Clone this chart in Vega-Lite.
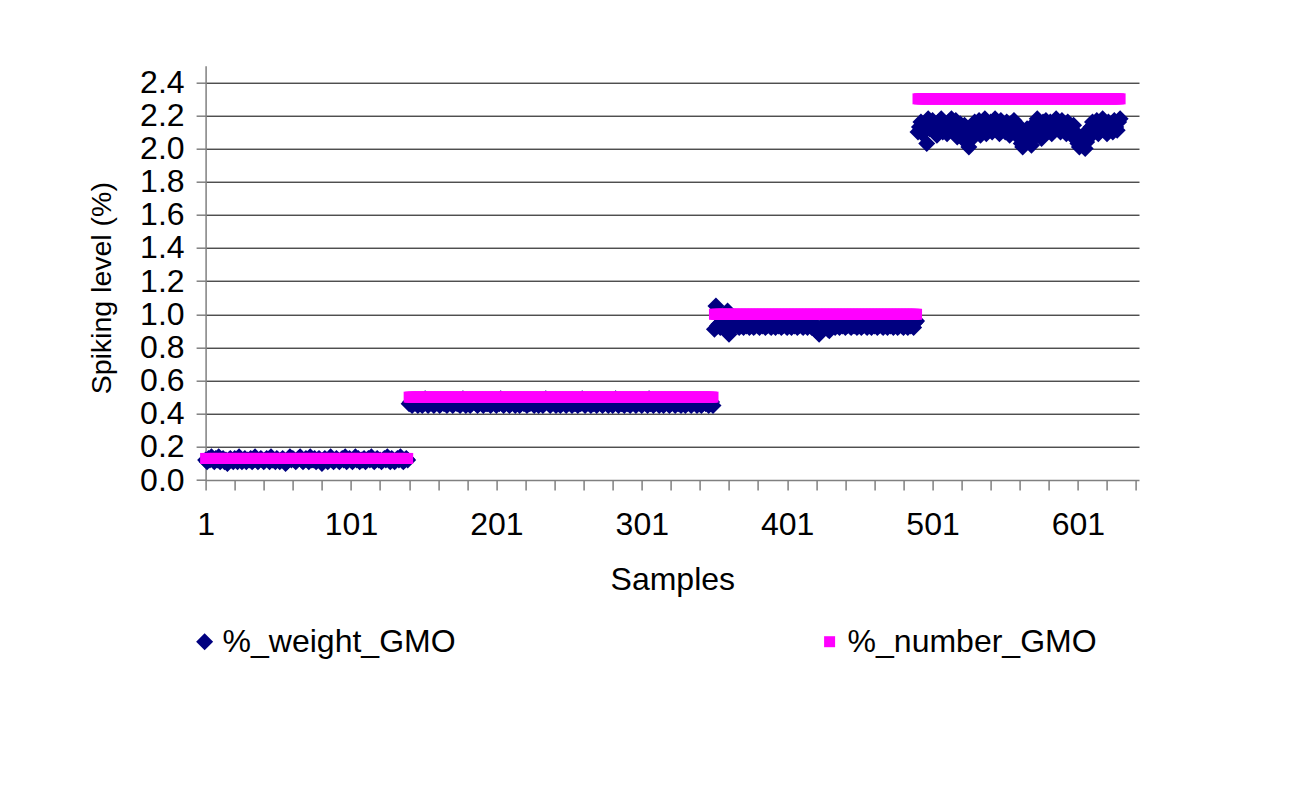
{
"$schema": "https://vega.github.io/schema/vega-lite/v6.json",
"width": 933.4,
"height": 414.3,
"autosize": {"type": "none"},
"padding": {"left": 205.6, "top": 65.7, "right": 151, "bottom": 311},
"background": "white",
"config": {"view": {"stroke": null}, "font": "Liberation Sans"},
"data": {"values": [
{"s":1,"w":0.12,"n":0.13},{"s":2,"w":0.11,"n":0.13},{"s":3,"w":0.13,"n":0.13},{"s":4,"w":0.12,"n":0.13},{"s":5,"w":0.14,"n":0.13},{"s":6,"w":0.12,"n":0.13},{"s":7,"w":0.11,"n":0.13},{"s":8,"w":0.13,"n":0.13},{"s":9,"w":0.12,"n":0.13},{"s":10,"w":0.14,"n":0.13},
{"s":11,"w":0.11,"n":0.13},{"s":12,"w":0.12,"n":0.13},{"s":13,"w":0.13,"n":0.13},{"s":14,"w":0.11,"n":0.13},{"s":15,"w":0.12,"n":0.13},{"s":16,"w":0.10,"n":0.13},{"s":17,"w":0.12,"n":0.13},{"s":18,"w":0.13,"n":0.13},{"s":19,"w":0.12,"n":0.13},{"s":20,"w":0.11,"n":0.13},
{"s":21,"w":0.13,"n":0.13},{"s":22,"w":0.12,"n":0.13},{"s":23,"w":0.11,"n":0.13},{"s":24,"w":0.14,"n":0.13},{"s":25,"w":0.12,"n":0.13},{"s":26,"w":0.11,"n":0.13},{"s":27,"w":0.12,"n":0.13},{"s":28,"w":0.13,"n":0.13},{"s":29,"w":0.11,"n":0.13},{"s":30,"w":0.12,"n":0.13},
{"s":31,"w":0.12,"n":0.13},{"s":32,"w":0.13,"n":0.13},{"s":33,"w":0.11,"n":0.13},{"s":34,"w":0.12,"n":0.13},{"s":35,"w":0.14,"n":0.13},{"s":36,"w":0.12,"n":0.13},{"s":37,"w":0.11,"n":0.13},{"s":38,"w":0.12,"n":0.13},{"s":39,"w":0.13,"n":0.13},{"s":40,"w":0.12,"n":0.13},
{"s":41,"w":0.11,"n":0.13},{"s":42,"w":0.12,"n":0.13},{"s":43,"w":0.13,"n":0.13},{"s":44,"w":0.12,"n":0.13},{"s":45,"w":0.11,"n":0.13},{"s":46,"w":0.14,"n":0.13},{"s":47,"w":0.12,"n":0.13},{"s":48,"w":0.12,"n":0.13},{"s":49,"w":0.11,"n":0.13},{"s":50,"w":0.13,"n":0.13},
{"s":51,"w":0.12,"n":0.13},{"s":52,"w":0.11,"n":0.13},{"s":53,"w":0.12,"n":0.13},{"s":54,"w":0.13,"n":0.13},{"s":55,"w":0.12,"n":0.13},{"s":56,"w":0.10,"n":0.13},{"s":57,"w":0.11,"n":0.13},{"s":58,"w":0.12,"n":0.13},{"s":59,"w":0.14,"n":0.13},{"s":60,"w":0.12,"n":0.13},
{"s":61,"w":0.13,"n":0.13},{"s":62,"w":0.12,"n":0.13},{"s":63,"w":0.11,"n":0.13},{"s":64,"w":0.12,"n":0.13},{"s":65,"w":0.13,"n":0.13},{"s":66,"w":0.14,"n":0.13},{"s":67,"w":0.12,"n":0.13},{"s":68,"w":0.11,"n":0.13},{"s":69,"w":0.12,"n":0.13},{"s":70,"w":0.13,"n":0.13},
{"s":71,"w":0.12,"n":0.13},{"s":72,"w":0.11,"n":0.13},{"s":73,"w":0.14,"n":0.13},{"s":74,"w":0.12,"n":0.13},{"s":75,"w":0.12,"n":0.13},{"s":76,"w":0.13,"n":0.13},{"s":77,"w":0.11,"n":0.13},{"s":78,"w":0.12,"n":0.13},{"s":79,"w":0.13,"n":0.13},{"s":80,"w":0.12,"n":0.13},
{"s":81,"w":0.10,"n":0.13},{"s":82,"w":0.12,"n":0.13},{"s":83,"w":0.13,"n":0.13},{"s":84,"w":0.12,"n":0.13},{"s":85,"w":0.11,"n":0.13},{"s":86,"w":0.12,"n":0.13},{"s":87,"w":0.14,"n":0.13},{"s":88,"w":0.12,"n":0.13},{"s":89,"w":0.11,"n":0.13},{"s":90,"w":0.12,"n":0.13},
{"s":91,"w":0.13,"n":0.13},{"s":92,"w":0.12,"n":0.13},{"s":93,"w":0.11,"n":0.13},{"s":94,"w":0.12,"n":0.13},{"s":95,"w":0.13,"n":0.13},{"s":96,"w":0.12,"n":0.13},{"s":97,"w":0.14,"n":0.13},{"s":98,"w":0.11,"n":0.13},{"s":99,"w":0.12,"n":0.13},{"s":100,"w":0.13,"n":0.13},
{"s":101,"w":0.12,"n":0.13},{"s":102,"w":0.11,"n":0.13},{"s":103,"w":0.12,"n":0.13},{"s":104,"w":0.14,"n":0.13},{"s":105,"w":0.12,"n":0.13},{"s":106,"w":0.13,"n":0.13},{"s":107,"w":0.11,"n":0.13},{"s":108,"w":0.12,"n":0.13},{"s":109,"w":0.12,"n":0.13},{"s":110,"w":0.13,"n":0.13},
{"s":111,"w":0.11,"n":0.13},{"s":112,"w":0.12,"n":0.13},{"s":113,"w":0.13,"n":0.13},{"s":114,"w":0.12,"n":0.13},{"s":115,"w":0.14,"n":0.13},{"s":116,"w":0.12,"n":0.13},{"s":117,"w":0.11,"n":0.13},{"s":118,"w":0.12,"n":0.13},{"s":119,"w":0.13,"n":0.13},{"s":120,"w":0.12,"n":0.13},
{"s":121,"w":0.12,"n":0.13},{"s":122,"w":0.11,"n":0.13},{"s":123,"w":0.12,"n":0.13},{"s":124,"w":0.13,"n":0.13},{"s":125,"w":0.12,"n":0.13},{"s":126,"w":0.14,"n":0.13},{"s":127,"w":0.12,"n":0.13},{"s":128,"w":0.11,"n":0.13},{"s":129,"w":0.13,"n":0.13},{"s":130,"w":0.12,"n":0.13},
{"s":131,"w":0.11,"n":0.13},{"s":132,"w":0.12,"n":0.13},{"s":133,"w":0.13,"n":0.13},{"s":134,"w":0.12,"n":0.13},{"s":135,"w":0.14,"n":0.13},{"s":136,"w":0.12,"n":0.13},{"s":137,"w":0.11,"n":0.13},{"s":138,"w":0.12,"n":0.13},{"s":139,"w":0.13,"n":0.13},{"s":140,"w":0.12,"n":0.13},
{"s":141,"w":0.46,"n":0.5},{"s":142,"w":0.47,"n":0.5},{"s":143,"w":0.45,"n":0.5},{"s":144,"w":0.46,"n":0.5},{"s":145,"w":0.48,"n":0.5},{"s":146,"w":0.46,"n":0.5},{"s":147,"w":0.45,"n":0.5},{"s":148,"w":0.47,"n":0.5},{"s":149,"w":0.46,"n":0.5},{"s":150,"w":0.45,"n":0.5},
{"s":151,"w":0.46,"n":0.5},{"s":152,"w":0.49,"n":0.5},{"s":153,"w":0.47,"n":0.5},{"s":154,"w":0.45,"n":0.5},{"s":155,"w":0.46,"n":0.5},{"s":156,"w":0.47,"n":0.5},{"s":157,"w":0.46,"n":0.5},{"s":158,"w":0.45,"n":0.5},{"s":159,"w":0.46,"n":0.5},{"s":160,"w":0.48,"n":0.5},
{"s":161,"w":0.47,"n":0.5},{"s":162,"w":0.45,"n":0.5},{"s":163,"w":0.46,"n":0.5},{"s":164,"w":0.47,"n":0.5},{"s":165,"w":0.46,"n":0.5},{"s":166,"w":0.48,"n":0.5},{"s":167,"w":0.45,"n":0.5},{"s":168,"w":0.46,"n":0.5},{"s":169,"w":0.47,"n":0.5},{"s":170,"w":0.46,"n":0.5},
{"s":171,"w":0.45,"n":0.5},{"s":172,"w":0.46,"n":0.5},{"s":173,"w":0.48,"n":0.5},{"s":174,"w":0.46,"n":0.5},{"s":175,"w":0.47,"n":0.5},{"s":176,"w":0.45,"n":0.5},{"s":177,"w":0.46,"n":0.5},{"s":178,"w":0.49,"n":0.5},{"s":179,"w":0.46,"n":0.5},{"s":180,"w":0.45,"n":0.5},
{"s":181,"w":0.47,"n":0.5},{"s":182,"w":0.46,"n":0.5},{"s":183,"w":0.45,"n":0.5},{"s":184,"w":0.46,"n":0.5},{"s":185,"w":0.48,"n":0.5},{"s":186,"w":0.47,"n":0.5},{"s":187,"w":0.46,"n":0.5},{"s":188,"w":0.45,"n":0.5},{"s":189,"w":0.46,"n":0.5},{"s":190,"w":0.47,"n":0.5},
{"s":191,"w":0.46,"n":0.5},{"s":192,"w":0.45,"n":0.5},{"s":193,"w":0.47,"n":0.5},{"s":194,"w":0.46,"n":0.5},{"s":195,"w":0.46,"n":0.5},{"s":196,"w":0.48,"n":0.5},{"s":197,"w":0.45,"n":0.5},{"s":198,"w":0.46,"n":0.5},{"s":199,"w":0.47,"n":0.5},{"s":200,"w":0.46,"n":0.5},
{"s":201,"w":0.45,"n":0.5},{"s":202,"w":0.47,"n":0.5},{"s":203,"w":0.46,"n":0.5},{"s":204,"w":0.49,"n":0.5},{"s":205,"w":0.46,"n":0.5},{"s":206,"w":0.45,"n":0.5},{"s":207,"w":0.46,"n":0.5},{"s":208,"w":0.47,"n":0.5},{"s":209,"w":0.46,"n":0.5},{"s":210,"w":0.45,"n":0.5},
{"s":211,"w":0.46,"n":0.5},{"s":212,"w":0.48,"n":0.5},{"s":213,"w":0.46,"n":0.5},{"s":214,"w":0.45,"n":0.5},{"s":215,"w":0.47,"n":0.5},{"s":216,"w":0.46,"n":0.5},{"s":217,"w":0.45,"n":0.5},{"s":218,"w":0.46,"n":0.5},{"s":219,"w":0.48,"n":0.5},{"s":220,"w":0.46,"n":0.5},
{"s":221,"w":0.47,"n":0.5},{"s":222,"w":0.45,"n":0.5},{"s":223,"w":0.46,"n":0.5},{"s":224,"w":0.46,"n":0.5},{"s":225,"w":0.48,"n":0.5},{"s":226,"w":0.46,"n":0.5},{"s":227,"w":0.45,"n":0.5},{"s":228,"w":0.47,"n":0.5},{"s":229,"w":0.46,"n":0.5},{"s":230,"w":0.45,"n":0.5},
{"s":231,"w":0.46,"n":0.5},{"s":232,"w":0.47,"n":0.5},{"s":233,"w":0.45,"n":0.5},{"s":234,"w":0.46,"n":0.5},{"s":235,"w":0.49,"n":0.5},{"s":236,"w":0.47,"n":0.5},{"s":237,"w":0.46,"n":0.5},{"s":238,"w":0.45,"n":0.5},{"s":239,"w":0.46,"n":0.5},{"s":240,"w":0.47,"n":0.5},
{"s":241,"w":0.46,"n":0.5},{"s":242,"w":0.45,"n":0.5},{"s":243,"w":0.48,"n":0.5},{"s":244,"w":0.46,"n":0.5},{"s":245,"w":0.45,"n":0.5},{"s":246,"w":0.46,"n":0.5},{"s":247,"w":0.47,"n":0.5},{"s":248,"w":0.46,"n":0.5},{"s":249,"w":0.45,"n":0.5},{"s":250,"w":0.46,"n":0.5},
{"s":251,"w":0.47,"n":0.5},{"s":252,"w":0.46,"n":0.5},{"s":253,"w":0.45,"n":0.5},{"s":254,"w":0.48,"n":0.5},{"s":255,"w":0.46,"n":0.5},{"s":256,"w":0.46,"n":0.5},{"s":257,"w":0.45,"n":0.5},{"s":258,"w":0.47,"n":0.5},{"s":259,"w":0.46,"n":0.5},{"s":260,"w":0.49,"n":0.5},
{"s":261,"w":0.46,"n":0.5},{"s":262,"w":0.45,"n":0.5},{"s":263,"w":0.46,"n":0.5},{"s":264,"w":0.47,"n":0.5},{"s":265,"w":0.46,"n":0.5},{"s":266,"w":0.45,"n":0.5},{"s":267,"w":0.48,"n":0.5},{"s":268,"w":0.46,"n":0.5},{"s":269,"w":0.47,"n":0.5},{"s":270,"w":0.45,"n":0.5},
{"s":271,"w":0.46,"n":0.5},{"s":272,"w":0.47,"n":0.5},{"s":273,"w":0.46,"n":0.5},{"s":274,"w":0.45,"n":0.5},{"s":275,"w":0.46,"n":0.5},{"s":276,"w":0.48,"n":0.5},{"s":277,"w":0.46,"n":0.5},{"s":278,"w":0.45,"n":0.5},{"s":279,"w":0.47,"n":0.5},{"s":280,"w":0.46,"n":0.5},
{"s":281,"w":0.45,"n":0.5},{"s":282,"w":0.46,"n":0.5},{"s":283,"w":0.49,"n":0.5},{"s":284,"w":0.46,"n":0.5},{"s":285,"w":0.45,"n":0.5},{"s":286,"w":0.47,"n":0.5},{"s":287,"w":0.46,"n":0.5},{"s":288,"w":0.46,"n":0.5},{"s":289,"w":0.45,"n":0.5},{"s":290,"w":0.48,"n":0.5},
{"s":291,"w":0.46,"n":0.5},{"s":292,"w":0.47,"n":0.5},{"s":293,"w":0.45,"n":0.5},{"s":294,"w":0.46,"n":0.5},{"s":295,"w":0.48,"n":0.5},{"s":296,"w":0.46,"n":0.5},{"s":297,"w":0.45,"n":0.5},{"s":298,"w":0.46,"n":0.5},{"s":299,"w":0.47,"n":0.5},{"s":300,"w":0.46,"n":0.5},
{"s":301,"w":0.45,"n":0.5},{"s":302,"w":0.46,"n":0.5},{"s":303,"w":0.47,"n":0.5},{"s":304,"w":0.46,"n":0.5},{"s":305,"w":0.45,"n":0.5},{"s":306,"w":0.49,"n":0.5},{"s":307,"w":0.46,"n":0.5},{"s":308,"w":0.47,"n":0.5},{"s":309,"w":0.45,"n":0.5},{"s":310,"w":0.46,"n":0.5},
{"s":311,"w":0.47,"n":0.5},{"s":312,"w":0.46,"n":0.5},{"s":313,"w":0.45,"n":0.5},{"s":314,"w":0.48,"n":0.5},{"s":315,"w":0.46,"n":0.5},{"s":316,"w":0.45,"n":0.5},{"s":317,"w":0.46,"n":0.5},{"s":318,"w":0.47,"n":0.5},{"s":319,"w":0.46,"n":0.5},{"s":320,"w":0.45,"n":0.5},
{"s":321,"w":0.46,"n":0.5},{"s":322,"w":0.48,"n":0.5},{"s":323,"w":0.46,"n":0.5},{"s":324,"w":0.45,"n":0.5},{"s":325,"w":0.47,"n":0.5},{"s":326,"w":0.46,"n":0.5},{"s":327,"w":0.46,"n":0.5},{"s":328,"w":0.45,"n":0.5},{"s":329,"w":0.48,"n":0.5},{"s":330,"w":0.46,"n":0.5},
{"s":331,"w":0.45,"n":0.5},{"s":332,"w":0.46,"n":0.5},{"s":333,"w":0.47,"n":0.5},{"s":334,"w":0.46,"n":0.5},{"s":335,"w":0.45,"n":0.5},{"s":336,"w":0.46,"n":0.5},{"s":337,"w":0.48,"n":0.5},{"s":338,"w":0.46,"n":0.5},{"s":339,"w":0.45,"n":0.5},{"s":340,"w":0.47,"n":0.5},
{"s":341,"w":0.46,"n":0.5},{"s":342,"w":0.45,"n":0.5},{"s":343,"w":0.46,"n":0.5},{"s":344,"w":0.47,"n":0.5},{"s":345,"w":0.46,"n":0.5},{"s":346,"w":0.48,"n":0.5},{"s":347,"w":0.45,"n":0.5},{"s":348,"w":0.46,"n":0.5},{"s":349,"w":0.47,"n":0.5},{"s":350,"w":0.45,"n":0.5},
{"s":351,"w":0.91,"n":1.0},{"s":352,"w":1.05,"n":1.0},{"s":353,"w":0.93,"n":1.0},{"s":354,"w":0.94,"n":1.0},{"s":355,"w":0.92,"n":1.0},{"s":356,"w":0.95,"n":1.0},{"s":357,"w":0.93,"n":1.0},{"s":358,"w":0.94,"n":1.0},{"s":359,"w":0.92,"n":1.0},{"s":360,"w":1.02,"n":1.0},
{"s":361,"w":0.88,"n":1.0},{"s":362,"w":0.93,"n":1.0},{"s":363,"w":0.94,"n":1.0},{"s":364,"w":0.92,"n":1.0},{"s":365,"w":0.93,"n":1.0},{"s":366,"w":0.95,"n":1.0},{"s":367,"w":0.93,"n":1.0},{"s":368,"w":0.92,"n":1.0},{"s":369,"w":0.94,"n":1.0},{"s":370,"w":0.93,"n":1.0},
{"s":371,"w":0.92,"n":1.0},{"s":372,"w":0.94,"n":1.0},{"s":373,"w":0.93,"n":1.0},{"s":374,"w":0.95,"n":1.0},{"s":375,"w":0.92,"n":1.0},{"s":376,"w":0.93,"n":1.0},{"s":377,"w":0.94,"n":1.0},{"s":378,"w":0.92,"n":1.0},{"s":379,"w":0.93,"n":1.0},{"s":380,"w":0.95,"n":1.0},
{"s":381,"w":0.93,"n":1.0},{"s":382,"w":0.92,"n":1.0},{"s":383,"w":0.94,"n":1.0},{"s":384,"w":0.93,"n":1.0},{"s":385,"w":0.95,"n":1.0},{"s":386,"w":0.92,"n":1.0},{"s":387,"w":0.93,"n":1.0},{"s":388,"w":0.94,"n":1.0},{"s":389,"w":0.93,"n":1.0},{"s":390,"w":0.92,"n":1.0},
{"s":391,"w":0.94,"n":1.0},{"s":392,"w":0.93,"n":1.0},{"s":393,"w":0.92,"n":1.0},{"s":394,"w":0.95,"n":1.0},{"s":395,"w":0.93,"n":1.0},{"s":396,"w":0.94,"n":1.0},{"s":397,"w":0.92,"n":1.0},{"s":398,"w":0.93,"n":1.0},{"s":399,"w":0.95,"n":1.0},{"s":400,"w":0.93,"n":1.0},
{"s":401,"w":0.92,"n":1.0},{"s":402,"w":0.94,"n":1.0},{"s":403,"w":0.93,"n":1.0},{"s":404,"w":0.92,"n":1.0},{"s":405,"w":0.95,"n":1.0},{"s":406,"w":0.93,"n":1.0},{"s":407,"w":0.94,"n":1.0},{"s":408,"w":0.92,"n":1.0},{"s":409,"w":0.93,"n":1.0},{"s":410,"w":0.94,"n":1.0},
{"s":411,"w":0.93,"n":1.0},{"s":412,"w":0.92,"n":1.0},{"s":413,"w":0.94,"n":1.0},{"s":414,"w":0.93,"n":1.0},{"s":415,"w":0.92,"n":1.0},{"s":416,"w":0.95,"n":1.0},{"s":417,"w":0.93,"n":1.0},{"s":418,"w":0.92,"n":1.0},{"s":419,"w":0.94,"n":1.0},{"s":420,"w":0.91,"n":1.0},
{"s":421,"w":0.90,"n":1.0},{"s":422,"w":0.92,"n":1.0},{"s":423,"w":0.88,"n":1.0},{"s":424,"w":0.91,"n":1.0},{"s":425,"w":0.93,"n":1.0},{"s":426,"w":0.92,"n":1.0},{"s":427,"w":0.94,"n":1.0},{"s":428,"w":0.93,"n":1.0},{"s":429,"w":0.91,"n":1.0},{"s":430,"w":0.90,"n":1.0},
{"s":431,"w":0.92,"n":1.0},{"s":432,"w":0.93,"n":1.0},{"s":433,"w":0.96,"n":1.0},{"s":434,"w":0.92,"n":1.0},{"s":435,"w":0.94,"n":1.0},{"s":436,"w":0.93,"n":1.0},{"s":437,"w":0.92,"n":1.0},{"s":438,"w":0.95,"n":1.0},{"s":439,"w":0.93,"n":1.0},{"s":440,"w":0.94,"n":1.0},
{"s":441,"w":0.92,"n":1.0},{"s":442,"w":0.93,"n":1.0},{"s":443,"w":0.95,"n":1.0},{"s":444,"w":0.93,"n":1.0},{"s":445,"w":0.92,"n":1.0},{"s":446,"w":0.94,"n":1.0},{"s":447,"w":0.93,"n":1.0},{"s":448,"w":0.95,"n":1.0},{"s":449,"w":0.92,"n":1.0},{"s":450,"w":0.93,"n":1.0},
{"s":451,"w":0.94,"n":1.0},{"s":452,"w":0.92,"n":1.0},{"s":453,"w":0.93,"n":1.0},{"s":454,"w":0.95,"n":1.0},{"s":455,"w":0.93,"n":1.0},{"s":456,"w":0.92,"n":1.0},{"s":457,"w":0.94,"n":1.0},{"s":458,"w":0.93,"n":1.0},{"s":459,"w":0.92,"n":1.0},{"s":460,"w":0.95,"n":1.0},
{"s":461,"w":0.93,"n":1.0},{"s":462,"w":0.94,"n":1.0},{"s":463,"w":0.92,"n":1.0},{"s":464,"w":0.93,"n":1.0},{"s":465,"w":0.95,"n":1.0},{"s":466,"w":0.93,"n":1.0},{"s":467,"w":0.92,"n":1.0},{"s":468,"w":0.94,"n":1.0},{"s":469,"w":0.93,"n":1.0},{"s":470,"w":0.92,"n":1.0},
{"s":471,"w":0.94,"n":1.0},{"s":472,"w":0.93,"n":1.0},{"s":473,"w":0.95,"n":1.0},{"s":474,"w":0.92,"n":1.0},{"s":475,"w":0.93,"n":1.0},{"s":476,"w":0.94,"n":1.0},{"s":477,"w":0.92,"n":1.0},{"s":478,"w":0.93,"n":1.0},{"s":479,"w":0.95,"n":1.0},{"s":480,"w":0.93,"n":1.0},
{"s":481,"w":0.92,"n":1.0},{"s":482,"w":0.94,"n":1.0},{"s":483,"w":0.93,"n":1.0},{"s":484,"w":0.92,"n":1.0},{"s":485,"w":0.95,"n":1.0},{"s":486,"w":0.93,"n":1.0},{"s":487,"w":0.94,"n":1.0},{"s":488,"w":0.92,"n":1.0},{"s":489,"w":0.95,"n":1.0},{"s":490,"w":0.96,"n":1.0},
{"s":491,"w":2.10,"n":2.3},{"s":492,"w":2.13,"n":2.3},{"s":493,"w":2.16,"n":2.3},{"s":494,"w":2.09,"n":2.3},{"s":495,"w":2.14,"n":2.3},{"s":496,"w":2.11,"n":2.3},{"s":497,"w":2.03,"n":2.3},{"s":498,"w":2.18,"n":2.3},{"s":499,"w":2.12,"n":2.3},{"s":500,"w":2.15,"n":2.3},
{"s":501,"w":2.17,"n":2.3},{"s":502,"w":2.11,"n":2.3},{"s":503,"w":2.14,"n":2.3},{"s":504,"w":2.08,"n":2.3},{"s":505,"w":2.16,"n":2.3},{"s":506,"w":2.12,"n":2.3},{"s":507,"w":2.18,"n":2.3},{"s":508,"w":2.10,"n":2.3},{"s":509,"w":2.15,"n":2.3},{"s":510,"w":2.13,"n":2.3},
{"s":511,"w":2.09,"n":2.3},{"s":512,"w":2.16,"n":2.3},{"s":513,"w":2.12,"n":2.3},{"s":514,"w":2.18,"n":2.3},{"s":515,"w":2.14,"n":2.3},{"s":516,"w":2.10,"n":2.3},{"s":517,"w":2.17,"n":2.3},{"s":518,"w":2.07,"n":2.3},{"s":519,"w":2.13,"n":2.3},{"s":520,"w":2.15,"n":2.3},
{"s":521,"w":2.11,"n":2.3},{"s":522,"w":2.06,"n":2.3},{"s":523,"w":2.14,"n":2.3},{"s":524,"w":2.04,"n":2.3},{"s":525,"w":2.08,"n":2.3},{"s":526,"w":2.01,"n":2.3},{"s":527,"w":2.05,"n":2.3},{"s":528,"w":2.12,"n":2.3},{"s":529,"w":2.09,"n":2.3},{"s":530,"w":2.16,"n":2.3},
{"s":531,"w":2.13,"n":2.3},{"s":532,"w":2.10,"n":2.3},{"s":533,"w":2.17,"n":2.3},{"s":534,"w":2.08,"n":2.3},{"s":535,"w":2.15,"n":2.3},{"s":536,"w":2.11,"n":2.3},{"s":537,"w":2.18,"n":2.3},{"s":538,"w":2.09,"n":2.3},{"s":539,"w":2.14,"n":2.3},{"s":540,"w":2.12,"n":2.3},
{"s":541,"w":2.16,"n":2.3},{"s":542,"w":2.10,"n":2.3},{"s":543,"w":2.13,"n":2.3},{"s":544,"w":2.18,"n":2.3},{"s":545,"w":2.11,"n":2.3},{"s":546,"w":2.15,"n":2.3},{"s":547,"w":2.09,"n":2.3},{"s":548,"w":2.17,"n":2.3},{"s":549,"w":2.12,"n":2.3},{"s":550,"w":2.14,"n":2.3},
{"s":551,"w":2.10,"n":2.3},{"s":552,"w":2.16,"n":2.3},{"s":553,"w":2.13,"n":2.3},{"s":554,"w":2.08,"n":2.3},{"s":555,"w":2.15,"n":2.3},{"s":556,"w":2.11,"n":2.3},{"s":557,"w":2.17,"n":2.3},{"s":558,"w":2.12,"n":2.3},{"s":559,"w":2.09,"n":2.3},{"s":560,"w":2.14,"n":2.3},
{"s":561,"w":2.06,"n":2.3},{"s":562,"w":2.03,"n":2.3},{"s":563,"w":2.01,"n":2.3},{"s":564,"w":2.08,"n":2.3},{"s":565,"w":2.05,"n":2.3},{"s":566,"w":2.12,"n":2.3},{"s":567,"w":2.10,"n":2.3},{"s":568,"w":2.04,"n":2.3},{"s":569,"w":2.02,"n":2.3},{"s":570,"w":2.07,"n":2.3},
{"s":571,"w":2.15,"n":2.3},{"s":572,"w":2.11,"n":2.3},{"s":573,"w":2.18,"n":2.3},{"s":574,"w":2.09,"n":2.3},{"s":575,"w":2.14,"n":2.3},{"s":576,"w":2.06,"n":2.3},{"s":577,"w":2.16,"n":2.3},{"s":578,"w":2.12,"n":2.3},{"s":579,"w":2.17,"n":2.3},{"s":580,"w":2.10,"n":2.3},
{"s":581,"w":2.13,"n":2.3},{"s":582,"w":2.16,"n":2.3},{"s":583,"w":2.09,"n":2.3},{"s":584,"w":2.15,"n":2.3},{"s":585,"w":2.11,"n":2.3},{"s":586,"w":2.18,"n":2.3},{"s":587,"w":2.12,"n":2.3},{"s":588,"w":2.14,"n":2.3},{"s":589,"w":2.10,"n":2.3},{"s":590,"w":2.17,"n":2.3},
{"s":591,"w":2.12,"n":2.3},{"s":592,"w":2.15,"n":2.3},{"s":593,"w":2.09,"n":2.3},{"s":594,"w":2.16,"n":2.3},{"s":595,"w":2.11,"n":2.3},{"s":596,"w":2.13,"n":2.3},{"s":597,"w":2.08,"n":2.3},{"s":598,"w":2.14,"n":2.3},{"s":599,"w":2.10,"n":2.3},{"s":600,"w":2.05,"n":2.3},
{"s":601,"w":2.03,"n":2.3},{"s":602,"w":2.01,"n":2.3},{"s":603,"w":2.06,"n":2.3},{"s":604,"w":2.02,"n":2.3},{"s":605,"w":2.08,"n":2.3},{"s":606,"w":2.00,"n":2.3},{"s":607,"w":2.04,"n":2.3},{"s":608,"w":2.11,"n":2.3},{"s":609,"w":2.07,"n":2.3},{"s":610,"w":2.13,"n":2.3},
{"s":611,"w":2.16,"n":2.3},{"s":612,"w":2.10,"n":2.3},{"s":613,"w":2.14,"n":2.3},{"s":614,"w":2.17,"n":2.3},{"s":615,"w":2.09,"n":2.3},{"s":616,"w":2.15,"n":2.3},{"s":617,"w":2.12,"n":2.3},{"s":618,"w":2.18,"n":2.3},{"s":619,"w":2.11,"n":2.3},{"s":620,"w":2.14,"n":2.3},
{"s":621,"w":2.09,"n":2.3},{"s":622,"w":2.16,"n":2.3},{"s":623,"w":2.12,"n":2.3},{"s":624,"w":2.15,"n":2.3},{"s":625,"w":2.10,"n":2.3},{"s":626,"w":2.17,"n":2.3},{"s":627,"w":2.13,"n":2.3},{"s":628,"w":2.11,"n":2.3},{"s":629,"w":2.16,"n":2.3},{"s":630,"w":2.18,"n":2.3}
]},
"transform": [{"fold": ["w", "n"], "as": ["series", "value"]}],
"encoding": {
  "x": {"field": "s", "type": "quantitative",
    "scale": {"domain": [1, 643], "nice": false, "zero": false},
    "axis": {"values": [1,21,41,61,81,101,121,141,161,181,201,221,241,261,281,301,321,341,361,381,401,421,441,461,481,501,521,541,561,581,601,621,641],
      "labelExpr": "(datum.value - 1) % 100 === 0 ? format(datum.value, 'd') : ''",
      "labelOverlap": false, "labelFlush": false, "labelBound": false,
      "grid": false, "tickSize": 10, "tickColor": "#808080", "tickWidth": 1.5,
      "domainColor": "#808080", "domainWidth": 1.5,
      "labelFontSize": 32, "labelColor": "black", "labelPadding": 19,
      "title": "Samples", "titleFontSize": 32, "titleFontWeight": "normal", "titleColor": "black", "titlePadding": 24}},
  "y": {"field": "value", "type": "quantitative",
    "scale": {"domain": [0, 2.5], "nice": false, "zero": true},
    "axis": {"values": [0,0.2,0.4,0.6,0.8,1.0,1.2,1.4,1.6,1.8,2.0,2.2,2.4], "format": ".1f",
      "grid": true, "gridColor": {"condition": {"test": "datum.value === 0", "value": "transparent"}, "value": "black"}, "gridWidth": 1,
      "tickSize": 9.5, "tickColor": "#808080", "tickWidth": 1.5,
      "domainColor": "#808080", "domainWidth": 1.5,
      "labelFontSize": 32, "labelColor": "black", "labelPadding": 12, "labelOverlap": false, "labelBound": false,
      "title": "Spiking level (%)", "titleFontSize": 28.5, "titleFontWeight": "normal", "titleColor": "black", "titlePadding": 23, "titleY": 222}},
  "color": {"field": "series", "type": "nominal",
    "scale": {"domain": ["w", "n"], "range": ["#000080", "#FF00FF"]},
    "legend": {"orient": "none", "legendX": -17, "legendY": 560, "direction": "horizontal", "columns": 2,
      "columnPadding": 358, "title": null, "padding": 0, "labelFontSize": 32, "labelColor": "black", "labelLimit": 0,
      "labelOffset": 2, "symbolStrokeWidth": 0, "symbolOpacity": 1,
      "labelExpr": "datum.label === 'w' ? '%_weight_GMO' : '%_number_GMO'"}},
  "shape": {"field": "series", "type": "nominal",
    "scale": {"domain": ["w", "n"], "range": ["diamond", "square"]}},
  "size": {"field": "series", "type": "nominal",
    "scale": {"domain": ["w", "n"], "range": [289, 121]}}
},
"layer": [
  {"transform": [{"filter": "datum.series === 'w'"}], "mark": {"type": "point", "filled": true, "opacity": 1, "strokeWidth": 0}},
  {"transform": [{"filter": "datum.series === 'n'"}], "mark": {"type": "point", "filled": true, "opacity": 1, "strokeWidth": 0}}
]
}
